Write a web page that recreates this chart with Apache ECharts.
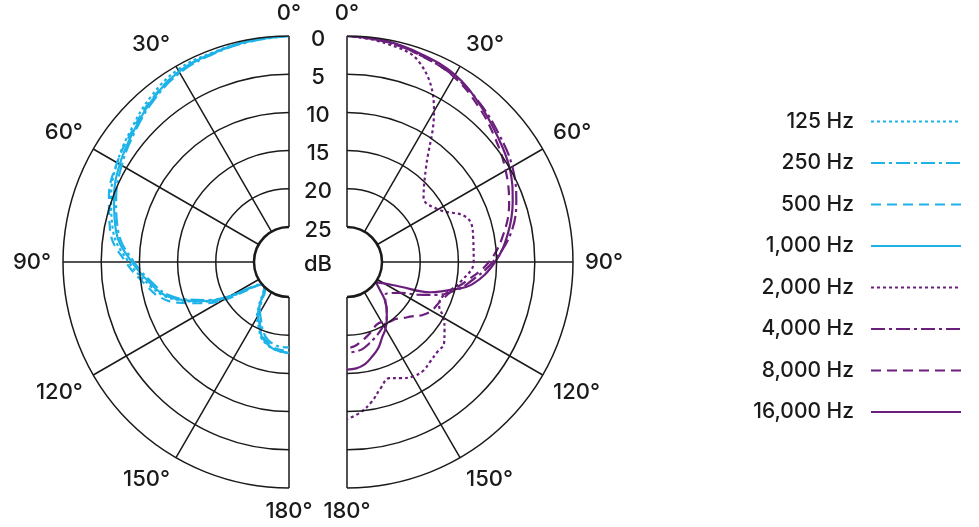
<!DOCTYPE html>
<html>
<head>
<meta charset="utf-8">
<script src="https://cdn.jsdelivr.net/npm/echarts@6/dist/echarts.min.js"></script>
<style>
  html, body { margin: 0; padding: 0; background: #fff; }
  #chart { width: 979px; height: 527px; }
</style>
</head>
<body>
<div id="chart"></div>
<script>
// Angles (degrees off axis) shared by every series
var angles = [0, 10, 20, 30, 40, 50, 60, 70, 80, 90, 100, 105, 110, 115, 120, 125, 130, 135, 140, 145, 150, 155, 160, 165, 170, 175, 180];

// Low frequencies, left half (dB)
var hz125  = [0, -0.2, -0.4, -0.5, -1.4, -2.6, -3.6, -4.8, -6.2, -8.6, -11.2, -12.6, -14.8, -17.3, -20.3, -23.8, -25, -25, -24.3, -22.8, -21.2, -20.2, -19.0, -18.4, -18.0, -17.8, -17.6];
var hz250  = [0, -0.3, -0.6, -1.0, -2.0, -3.2, -4.3, -5.5, -6.9, -9.3, -11.8, -13.1, -15.3, -17.8, -20.8, -24.2, -25, -25, -24.7, -23.3, -22.0, -21.0, -19.8, -19.0, -18.6, -18.4, -18.4];
var hz500  = [0, -0.2, -0.5, -0.8, -1.7, -2.8, -3.6, -4.5, -5.8, -8.2, -10.8, -12.0, -14.0, -16.8, -19.5, -23.5, -25, -25, -24.5, -23.0, -21.6, -20.6, -19.4, -18.7, -18.2, -18.0, -17.9];
var hz1000 = [0, -0.2, -0.5, -0.8, -1.8, -3.0, -4.0, -5.2, -6.6, -9.0, -11.5, -12.8, -15.0, -17.5, -20.5, -24.0, -25, -25, -24.5, -23.0, -21.5, -20.5, -19.2, -18.5, -18.0, -17.8, -17.7];

// High frequencies, right half (dB)
var hz2000  = [0, -0.5, -1.8, -6.8, -13.5, -16.5, -15.8, -12.8, -12.8, -13.0, -14.5, -15.5, -16.3, -16.3, -15.0, -14.0, -13.0, -12.9, -12.6, -12.2, -12.3, -12.8, -13.4, -12.5, -11.0, -9.8, -9.0];
var hz4000  = [0, -0.3, -0.9, -1.5, -2.5, -3.6, -4.6, -6.0, -7.8, -10.5, -13.5, -15.0, -17.0, -19.5, -21.5, -22.5, -23.0, -22.5, -21.5, -20.5, -20.0, -19.5, -19.0, -18.5, -18.0, -17.8, -17.7];
var hz8000  = [0, -0.3, -0.9, -1.6, -2.9, -4.3, -5.6, -7.0, -8.8, -11.0, -14.0, -15.3, -16.0, -16.5, -16.8, -17.5, -18.5, -19.2, -19.8, -20.0, -20.5, -20.5, -20.0, -19.5, -19.0, -18.5, -18.3];
var hz16000 = [0, -0.2, -0.7, -1.3, -2.6, -3.9, -5.0, -6.5, -8.2, -10.2, -12.9, -15.5, -18.0, -22.0, -24.0, -25, -24.0, -22.6, -21.5, -20.5, -19.5, -18.7, -17.6, -16.8, -16.0, -15.6, -15.5];

var radiusTicks = [0, 5, 10, 15, 20, 25];

var cyan = '#1db3e8';
var purple = '#6b1f7c';
var ink = '#1a1a1a';
var cx = [289, 347], cy = 262, rIn = 35, rOut = 226;

function pairs(vals) {
    return vals.map(function (v, i) { return [v, angles[i]]; });
}

function polarAxes(idx, clockwise) {
    return {
        angle: {
            polarIndex: idx, type: 'value', min: 0, max: 180, interval: 30,
            startAngle: 90, endAngle: clockwise ? -90 : 270, clockwise: clockwise,
            axisLine: {show: false},
            axisTick: {show: false},
            splitLine: {lineStyle: {color: ink, width: 1.5}},
            axisLabel: {formatter: '{value}°', color: ink, fontSize: 22, margin: 12, fontFamily: 'Inter', fontWeight: 500}
        },
        radius: {
            polarIndex: idx, type: 'value', min: -25, max: 0, interval: 5,
            axisLine: {show: false}, axisTick: {show: false}, axisLabel: {show: false},
            splitLine: {show: false}
        }
    };
}

var left = polarAxes(0, false), right = polarAxes(1, true);

function mk(name, vals, idx, color, dash) {
    return {
        name: name, type: 'line', coordinateSystem: 'polar', polarIndex: idx,
        data: pairs(vals), smooth: 0.4, symbol: 'none', showSymbol: false,
        lineStyle: {color: color, width: 2.2, type: dash},
        itemStyle: {color: color}
    };
}

var names = ['125 Hz', '250 Hz', '500 Hz', '1,000 Hz', '2,000 Hz', '4,000 Hz', '8,000 Hz', '16,000 Hz'];

function ringR(v) { return rIn + (25 - v) / 25 * (rOut - rIn); }

var graphics = radiusTicks.map(function (v) {
    return {type: 'text', x: 318, y: cy - ringR(v) + 3,
        style: {text: String(v), fill: ink, font: '500 22px Inter', align: 'center', verticalAlign: 'middle'}, z: 20};
});
graphics.push({type: 'text', x: 318, y: cy + 2,
    style: {text: 'dB', fill: ink, font: '500 22px Inter', align: 'center', verticalAlign: 'middle'}, z: 20});
// half rings on each side (hole edge drawn heavier)
radiusTicks.forEach(function (v) {
    var w = v === 25 ? 2.5 : 1.5;
    graphics.push({type: 'arc', shape: {cx: cx[0], cy: cy, r: ringR(v), startAngle: Math.PI / 2, endAngle: 3 * Math.PI / 2, clockwise: true},
        style: {stroke: ink, lineWidth: w, fill: null}, z: 10});
    graphics.push({type: 'arc', shape: {cx: cx[1], cy: cy, r: ringR(v), startAngle: -Math.PI / 2, endAngle: Math.PI / 2, clockwise: true},
        style: {stroke: ink, lineWidth: w, fill: null}, z: 10});
});

var option = {
    animation: false,
    backgroundColor: '#fff',
    polar: [
        {center: [cx[0], cy], radius: [rIn, rOut]},
        {center: [cx[1], cy], radius: [rIn, rOut]}
    ],
    angleAxis: [left.angle, right.angle],
    radiusAxis: [left.radius, right.radius],
    legend: {
        data: names, orient: 'vertical', right: 12, top: 106, align: 'right',
        itemWidth: 90, itemHeight: 14, itemGap: 20.5,
        itemStyle: {opacity: 0},
        textStyle: {color: ink, fontSize: 21, fontWeight: 500, fontFamily: 'Inter', padding: [0, 12, 0, 0]}
    },
    graphic: graphics,
    series: [
        mk(names[0], hz125, 0, cyan, [3, 3]),
        mk(names[1], hz250, 0, cyan, [14, 4, 3, 4]),
        mk(names[2], hz500, 0, cyan, [10, 6]),
        mk(names[3], hz1000, 0, cyan, 'solid'),
        mk(names[4], hz2000, 1, purple, [3, 3]),
        mk(names[5], hz4000, 1, purple, [14, 4, 3, 4]),
        mk(names[6], hz8000, 1, purple, [10, 6]),
        mk(names[7], hz16000, 1, purple, 'solid')
    ]
};

var chart = echarts.init(document.getElementById('chart'));
chart.setOption(option);
</script>
</body>
</html>
